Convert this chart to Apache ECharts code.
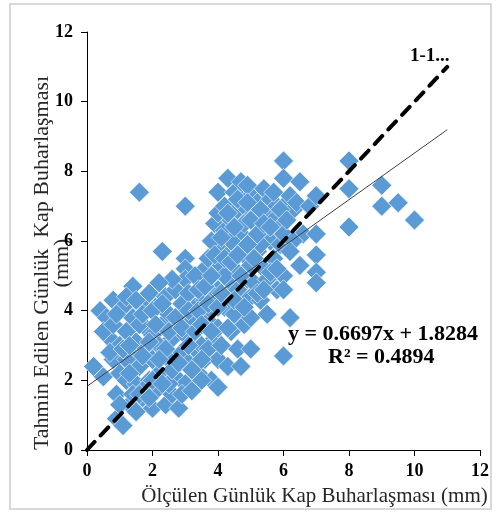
<!DOCTYPE html>
<html>
<head>
<meta charset="utf-8">
<script src="https://cdn.jsdelivr.net/npm/echarts@6/dist/echarts.min.js"></script>
<style>html,body{margin:0;padding:0;background:#fff}#c{width:496px;height:513px}</style>
</head>
<body>
<div id="c"></div>
<script>
var xTicks = [0, 2, 4, 6, 8, 10, 12];
var yTicks = [0, 2, 4, 6, 8, 10, 12];
var observedVsPredicted = [
  [0.2,2.4],[0.4,4.0],[0.6,3.8],[0.5,2.1],[0.7,3.2],[0.8,2.6],[0.8,4.3],[0.9,1.6],[0.9,0.9],[1.0,3.0],[1.0,2.2],[1.1,0.7],
  [1.1,4.1],[1.2,3.4],[1.2,2.0],[1.3,1.3],[1.4,4.7],[1.4,2.7],[1.4,3.8],[1.5,1.9],[1.5,1.1],[1.5,3.1],[1.6,7.4],[1.6,2.4],
  [1.7,4.2],[1.7,1.5],[1.8,3.5],[1.8,2.9],[1.9,2.0],[1.9,4.5],[2.0,1.2],[2.0,3.3],[1.2,2.6],[1.4,1.6],[1.6,3.6],[1.8,1.8],[2.0,2.6],
  [2.1,4.1],[2.1,1.7],[2.2,3.0],[2.2,2.2],[2.3,5.7],[2.3,3.6],[2.4,1.3],[2.4,4.4],[2.5,2.6],[2.5,3.9],[2.6,1.6],[2.6,3.2],
  [2.7,4.6],[2.7,2.1],[2.8,3.6],[2.8,1.2],[2.9,4.2],[2.9,2.8],[3.0,7.0],[3.0,5.5],[3.0,5.2],[3.0,4.9],[3.0,1.9],[3.0,3.3],
  [2.6,4.9],[2.2,4.8],[2.4,2.9],[2.9,1.6],[2.5,1.9],
  [3.1,4.5],[3.1,2.5],[3.2,3.8],[3.2,1.7],[3.3,4.1],[3.3,2.9],[3.4,3.5],[3.4,2.2],[3.5,4.8],[3.5,3.0],[3.6,4.3],[3.6,2.6],
  [3.7,3.7],[3.6,5.2],[3.8,4.0],[3.8,2.0],[3.9,6.5],[3.9,3.2],[4.0,5.8],[4.0,4.6],[4.0,3.5],[4.0,1.8],[4.0,7.4],[4.0,6.8],
  [3.5,2.0],[3.7,5.5],[3.8,6.0],[3.3,5.0],[3.9,4.4],[3.4,4.6],[3.7,2.9],[4.0,2.6],
  [4.1,5.3],[4.1,3.0],[4.2,7.0],[4.2,6.3],[4.2,4.1],[4.3,7.8],[4.3,5.6],[4.3,2.4],[4.4,6.6],[4.4,4.8],[4.4,3.4],[4.5,7.4],
  [4.5,5.9],[4.5,3.9],[4.6,6.9],[4.6,5.1],[4.6,2.9],[4.7,7.7],[4.7,6.2],[4.7,4.4],[4.7,2.4],[4.8,7.0],[4.8,5.6],[4.8,3.6],
  [4.9,6.6],[4.9,4.9],[5.0,7.3],[5.0,6.0],[5.0,5.3],[5.0,3.8],[5.0,2.9],[5.0,4.4],[4.9,7.6],[4.2,5.0],[4.4,6.0],[4.6,4.6],
  [4.8,6.5],[4.3,3.5],
  [5.1,6.7],[5.1,4.8],[5.2,7.1],[5.2,5.7],[5.3,6.3],[5.3,4.3],[5.4,7.5],[5.4,5.2],[5.5,6.8],[5.5,4.9],[5.6,6.0],[5.6,7.2],
  [5.7,5.5],[5.7,6.6],[5.8,7.0],[5.8,4.6],[5.9,5.9],[5.9,6.4],[6.0,8.3],[6.0,7.8],[6.0,7.0],[6.0,6.2],[6.0,5.0],[6.0,4.6],
  [6.2,3.8],[6.0,2.7],[5.5,3.9],[5.3,5.9],
  [6.2,7.3],[6.3,6.9],[6.4,7.1],[6.5,7.7],[6.6,6.2],[6.8,7.0],[7.0,7.3],[7.0,6.2],[7.0,5.6],[7.0,5.1],[7.0,4.8],[6.3,6.0],[6.5,5.3],
  [8.0,8.3],[8.0,7.5],[8.0,6.4],[9.0,7.6],[9.0,7.0],[9.5,7.1],[10.0,6.6],
  [0.5,3.4],[0.7,2.8],[0.8,3.6],[0.9,3.9],[1.0,1.3],[1.1,2.9],[1.2,4.4],[1.3,3.0],[1.3,2.2],[1.5,4.3],[1.6,1.6],[1.7,2.7],
  [1.7,3.9],[1.9,3.1],[1.9,1.5],[2.0,4.0],[2.0,2.0],[2.1,3.6],[2.2,2.6],[2.3,1.9],[2.3,4.2],[2.5,3.4],[2.6,2.3],[2.7,3.8],
  [2.8,2.5],[2.9,3.5],[3.1,3.0],[3.1,4.0],[3.2,2.3],[3.3,3.4],[3.4,4.0],[3.5,3.6],[3.5,2.6],[3.6,4.7],[3.7,4.2],[3.8,3.4],
  [3.8,5.0],[3.9,5.6],[4.0,4.1],[4.1,6.1],[4.1,4.5],[4.2,5.5],[4.3,6.8],[4.4,5.4],[4.5,6.4],[4.5,4.3],[4.6,7.2],[4.6,5.6],
  [4.7,5.0],[4.8,4.1],[4.9,5.9],[4.9,7.1],[5.0,6.6],[5.1,5.5],[5.2,6.2],[5.2,4.5],[5.3,6.9],[5.4,6.5],[5.4,4.6],[5.6,5.1],
  [5.6,6.4],[5.7,7.4],[5.8,5.2],[5.9,6.9],[6.1,6.6],[6.2,5.7]
];
var oneToOneLine = [[0, 0], [11, 11]];
var trendLine = [[0, 1.8284], [11, 9.1951]];
var oneToOneLabel = '1-1...';
var equationText = 'y = 0.6697x + 1.8284';
var r2Text = 'R² = 0.4894';
var xAxisName = 'Ölçülen Günlük Kap Buharlaşması (mm)';
var yAxisName = 'Tahmin Edilen Günlük  Kap Buharlaşması\n(mm)';

var serif = '"Liberation Serif", "DejaVu Serif", serif';
var chart = echarts.init(document.getElementById('c'));
function axisCommon(ticks) {
  return {
    type: 'value', min: ticks[0], max: ticks[ticks.length - 1], interval: ticks[1] - ticks[0],
    axisLine: { show: true, onZero: false, lineStyle: { color: '#000', width: 1 } },
    axisTick: { show: true, inside: false, length: 6, lineStyle: { color: '#000' } },
    splitLine: { show: false },
    axisLabel: { color: '#000', fontFamily: serif, fontWeight: 'bold', fontSize: 18 },
    nameMoveOverlap: false
  };
}
var xa = axisCommon(xTicks);
xa.axisLabel.margin = 12;
xa.name = xAxisName;
xa.nameLocation = 'middle';
xa.nameGap = 36;
xa.nameTextStyle = { color: '#262626', fontFamily: serif, fontSize: 21, padding: [0, 0, 0, 62] };
var ya = axisCommon(yTicks);
ya.axisLabel.margin = 14;
ya.name = yAxisName;
ya.nameLocation = 'middle';
ya.nameRotate = 90;
ya.nameGap = 15;
ya.nameTextStyle = { color: '#262626', fontFamily: serif, fontSize: 22, lineHeight: 20, align: 'center', padding: [0, 44, 0, 0] };

chart.setOption({
  animation: false,
  grid: { left: 87, right: 16, top: 32, bottom: 63, containLabel: false, outerBoundsMode: 'none' },
  xAxis: xa,
  yAxis: ya,
  graphic: [
    { type: 'rect', shape: { x: 10, y: 4, width: 481, height: 505 }, style: { fill: 'none', stroke: '#d9d9d9', lineWidth: 2 }, silent: true, z: -1 },
    { type: 'text', left: 410, top: 47, style: { text: oneToOneLabel, fill: '#000', font: 'bold 19px ' + serif } },
    { type: 'text', left: 288, top: 323, style: { text: equationText, fill: '#000', font: 'bold 22px ' + serif } },
    { type: 'text', left: 328, top: 346, style: { text: r2Text, fill: '#000', font: 'bold 22px ' + serif } }
  ],
  series: [
    { type: 'scatter', data: observedVsPredicted, symbol: 'diamond', symbolSize: 20,
      itemStyle: { color: '#5B9BD5', borderColor: '#fff', borderWidth: 0.6, opacity: 1 }, z: 2 },
    { type: 'line', data: trendLine, symbol: 'none', lineStyle: { color: '#404040', width: 1 }, z: 3 },
    { type: 'line', data: oneToOneLine, symbol: 'none', lineStyle: { color: '#000', width: 4, type: [11, 9], cap: 'round' }, z: 4 }
  ]
});
</script>
</body>
</html>
